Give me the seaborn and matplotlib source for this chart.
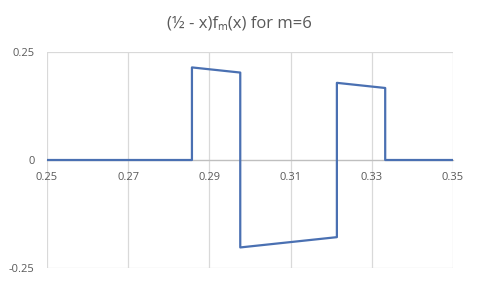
import matplotlib
matplotlib.use("Agg")
import matplotlib.pyplot as plt
import seaborn as sns

# Data: (1/2 - x) f_m(x) for m=6 (step function with jumps)
xs = [0.25, 0.2857, 0.2857, 0.2976, 0.2976, 0.3214, 0.3214, 0.3333, 0.3333, 0.35]
ys = [0.0, 0.0, 0.2143, 0.2024, -0.2024, -0.1786, 0.1786, 0.1667, 0.0, 0.0]
xticks = [0.25, 0.27, 0.29, 0.31, 0.33, 0.35]
xtick_labels = ["0.25", "0.27", "0.29", "0.31", "0.33", "0.35"]
yticks = [-0.25, 0, 0.25]
ytick_labels = ["-0.25", "0", "0.25"]
title = "(½ - x)fₘ(x) for m=6"

sns.set_theme(style="white")
plt.rcParams['font.family'] = ['Open Sans', 'DejaVu Sans']

fig = plt.figure(figsize=(4.78, 2.85), dpi=100)
ax = fig.add_axes([47/478, 1-268/285, (453-47)/478, (268-52)/285])

sns.lineplot(x=xs, y=ys, sort=False, estimator=None, color="#4A70B2",
             linewidth=1.6, ax=ax)

ax.set_xlim(0.25, 0.35)
ax.set_ylim(-0.25, 0.25)
ax.set_xticks(xticks)
ax.set_xticklabels(xtick_labels)
ax.set_yticks(yticks)
ax.set_yticklabels(ytick_labels)

for s in ["top", "right", "left"]:
    ax.spines[s].set_visible(False)
ax.spines["bottom"].set_position(("data", 0))
ax.spines["bottom"].set_color("#BFBFBF")
ax.spines["bottom"].set_linewidth(0.9)
ax.spines["bottom"].set_zorder(1)

ax.grid(True, axis="both", color="#D9D9D9", linewidth=0.9)
ax.set_axisbelow(True)
ax.tick_params(axis="x", length=0, pad=9, labelsize=8, labelcolor="#595959")
ax.tick_params(axis="y", length=0, pad=9, labelsize=8, labelcolor="#595959")

fig.text(0.5, 1-23/285, title, ha="center", va="center", fontsize=12,
         color="#595959", family=['Open Sans', 'DejaVu Sans'])

fig.savefig("out.png", dpi=100)
